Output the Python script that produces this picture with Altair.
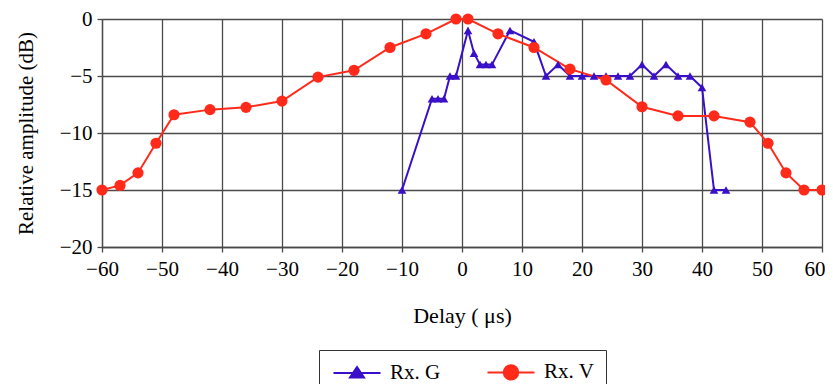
import altair as alt
import pandas as pd

# ---- data ----
series_names = ["Rx. G", "Rx. V"]
series_colors = ["#3A0FC8", "#FF2A1A"]

g_delay = [-10, -5, -4, -3, -2, -1, 1, 2, 3, 4, 5, 8, 12, 14, 16, 18, 20, 22, 24,
           26, 28, 30, 32, 34, 36, 38, 40, 42, 44]
g_amp = [-15, -7, -7, -7, -5, -5, -1, -3, -4, -4, -4, -1, -2, -5, -4, -5, -5, -5, -5,
         -5, -5, -4, -5, -4, -5, -5, -6, -15, -15]

v_delay = [-60, -57, -54, -51, -48, -42, -36, -30, -24, -18, -12, -6, -1, 1, 6, 12,
           18, 24, 30, 36, 42, 48, 51, 54, 57, 60]
v_amp = [-15, -14.6, -13.5, -10.9, -8.4, -7.95, -7.75, -7.2, -5.1, -4.5, -2.5, -1.3,
         0, 0, -1.3, -2.5, -4.4, -5.35, -7.7, -8.5, -8.5, -9.05, -10.9, -13.5, -15, -15]

x_ticks = list(range(-60, 61, 10))
y_ticks = [-20, -15, -10, -5, 0]

df = pd.concat([
    pd.DataFrame({"delay": g_delay, "amp": g_amp, "series": series_names[0]}),
    pd.DataFrame({"delay": v_delay, "amp": v_amp, "series": series_names[1]}),
])

FONT = "Liberation Serif"
GRID = "#4a4a4a"

# legend glyphs: a line segment with the marker in its middle
G_PATH = "M-2.35,0H2.35M0,-0.6L0.7,0.45L-0.7,0.45Z"
V_PATH = "M-2.35,0H2.35M0.72,0A0.72,0.72 0 1,1 -0.72,0A0.72,0.72 0 1,1 0.72,0Z"

legend = alt.Legend(
    title=None,
    orient="none",
    legendX=217,
    legendY=331,
    direction="horizontal",
    strokeColor="#333333",
    fillColor="white",
    padding=11,
    cornerRadius=0,
    symbolSize=400,
    symbolStrokeWidth=2,
    symbolOpacity=1,
    symbolOffset=16,
    labelOffset=22,
    columnPadding=42,
    labelFont=FONT,
    labelFontSize=21,
    labelColor="black",
)

cscale = alt.Scale(domain=series_names, range=series_colors)
color = alt.Color("series:N", scale=cscale, legend=None)

x = alt.X("delay:Q",
          scale=alt.Scale(domain=[-60, 60], nice=False, zero=False),
          axis=alt.Axis(values=x_ticks, title="Delay ( μs)", titleY=68,
                        titleBaseline="middle", labelPadding=6, format="d",
                        labelFlush=False,
                        labelAlign=alt.condition("datum.value == 60", alt.value("right"), alt.value("center")),
                        labelOffset=alt.condition("datum.value == 60", alt.value(3), alt.value(0)),
                        labelFont=FONT, labelFontSize=21, titleFont=FONT, titleFontSize=22))
y = alt.Y("amp:Q",
          scale=alt.Scale(domain=[-20, 0], nice=False, zero=False),
          axis=alt.Axis(values=y_ticks, title="Relative amplitude (dB)", titleX=-76,
                        titleY=114, titleBaseline="middle", titleAlign="center",
                        labelPadding=5, format="d", labelFlush=False,
                        labelFont=FONT, labelFontSize=21, titleFont=FONT, titleFontSize=21))

base = alt.Chart(df)
# legend-carrying layer: real rows, drawn with zero size (only the legend shows)
leg = base.mark_point(size=0, strokeWidth=2).encode(
    x=x, y=y,
    fill=alt.Fill("series:N", scale=alt.Scale(domain=series_names, range=series_colors), legend=legend),
    stroke=alt.Stroke("series:N", scale=alt.Scale(domain=series_names, range=series_colors), legend=legend),
    shape=alt.Shape("series:N", scale=alt.Scale(domain=series_names, range=[G_PATH, V_PATH]), legend=legend),
)
lines = base.mark_line(strokeWidth=2).encode(x=x, y=y, color=color, order="delay:Q")
pts_g = base.transform_filter(alt.datum.series == series_names[0]).mark_point(
    filled=True, shape="triangle-up", size=75, opacity=1).encode(x=x, y=y, color=color)
pts_v = base.transform_filter(alt.datum.series == series_names[1]).mark_point(
    filled=True, shape="circle", size=125, opacity=1).encode(x=x, y=y, color=color)

chart = alt.layer(leg, lines, pts_g, pts_v).properties(
    width=720, height=228,
    autosize=alt.AutoSizeParams(type="none"),
    padding={"left": 94, "top": 11, "right": 3, "bottom": 137},
).configure(
    font=FONT,
    style={"guide-label": {"font": FONT}, "guide-title": {"font": FONT}},
).configure_view(stroke=None).configure_axis(
    grid=True, gridColor=GRID, gridWidth=1.3, gridOpacity=1,
    domainColor=GRID, domainWidth=1.3, tickColor=GRID, tickWidth=1.3, tickSize=5,
    labelFont=FONT, labelFontSize=21, labelColor="black",
    titleFont=FONT, titleFontSize=21, titleColor="black", titleFontWeight="normal",
).configure_axisX(labelAngle=0, labelFont=FONT, titleFont=FONT).configure_axisY(
    labelFont=FONT, titleFont=FONT
)

chart.save("out.html", embed_options={"renderer": "svg", "actions": False})
